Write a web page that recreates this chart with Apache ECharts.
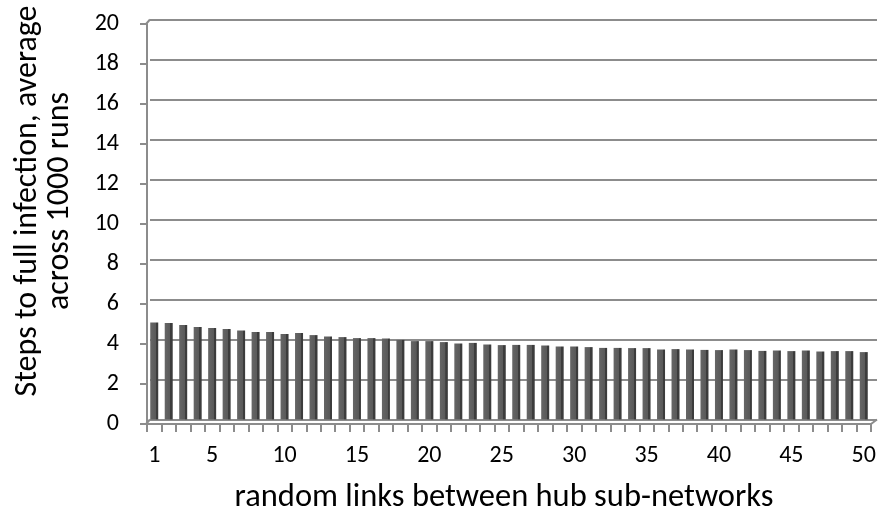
<!DOCTYPE html>
<html>
<head>
<meta charset="utf-8">
<script src="https://cdn.jsdelivr.net/npm/echarts@6/dist/echarts.min.js"></script>
<style>
  html, body { margin: 0; padding: 0; background: #fff; }
  #chart { width: 883px; height: 521px; }
</style>
</head>
<body>
<div id="chart"></div>
<script>
// Number of random links added between the hub sub-networks
const links = Array.from({ length: 50 }, (_, i) => String(i + 1));

// Average steps until the whole network is infected (1000 runs each)
const avgSteps = [
  4.85, 4.83, 4.72, 4.63, 4.58, 4.53, 4.45, 4.38, 4.37, 4.28,
  4.33, 4.22, 4.15, 4.12, 4.07, 4.07, 4.05, 3.98, 3.92, 3.92,
  3.87, 3.80, 3.83, 3.75, 3.72, 3.73, 3.73, 3.70, 3.65, 3.65,
  3.62, 3.58, 3.58, 3.57, 3.57, 3.50, 3.52, 3.50, 3.48, 3.47,
  3.50, 3.47, 3.43, 3.45, 3.42, 3.45, 3.40, 3.42, 3.42, 3.37
];

// Value axis ticks
const yMin = 0, yMax = 20, yStep = 2;

const FONT = 'Carlito, Lato, sans-serif';
const GRID_GRAY = '#8c8c8c';

const chart = echarts.init(document.getElementById('chart'), null, { renderer: 'canvas' });

const hiddenCat = (grid) => ({ gridIndex: grid, type: 'category', data: links, show: false });
const hiddenVal = (grid) => ({
  gridIndex: grid, type: 'value', min: yMin, max: yMax, interval: yStep, show: false,
  splitLine: { show: false }
});

chart.setOption({
  backgroundColor: '#ffffff',
  animation: false,
  grid: [
    // back wall (gridlines)
    { left: 150, right: 6, top: 19.5, bottom: 101.5 },
    // front plane (axes)
    { left: 147, right: 12, top: 24, bottom: 97 },
    // columns: front-plane categories, back-wall values
    { left: 147, right: 12, top: 19.5, bottom: 101.5 }
  ],
  xAxis: [
    hiddenCat(0),
    {
      gridIndex: 1, type: 'category', data: links,
      axisLine: { lineStyle: { color: GRID_GRAY, width: 2 } },
      axisTick: { show: true, length: 8, alignWithLabel: false, interval: 0,
                  lineStyle: { color: GRID_GRAY, width: 2 } },
      axisLabel: {
        interval: 0,
        formatter: v => (v === '1' || Number(v) % 5 === 0) ? v : '',
        color: '#000', fontFamily: FONT, fontSize: 24, margin: 20
      },
      name: 'random links between hub sub-networks',
      nameLocation: 'middle', nameGap: 57,
      nameTextStyle: { color: '#000', fontFamily: FONT, fontSize: 32.5, padding: [0, 10, 0, 0] }
    },
    hiddenCat(2)
  ],
  yAxis: [
    {
      gridIndex: 0, type: 'value', min: yMin, max: yMax, interval: yStep,
      axisLine: { show: false }, axisTick: { show: false }, axisLabel: { show: false },
      splitLine: { lineStyle: { color: GRID_GRAY, width: 2 } }
    },
    {
      gridIndex: 1, type: 'value', min: yMin, max: yMax, interval: yStep,
      axisLine: { show: true, lineStyle: { color: GRID_GRAY, width: 2 } },
      axisTick: { show: true, length: 7, lineStyle: { color: GRID_GRAY, width: 2 } },
      axisLabel: { color: '#000', fontFamily: FONT, fontSize: 24, margin: 28 },
      splitLine: { show: false }
    },
    hiddenVal(2)
  ],
  graphic: [
    {
      type: 'text', x: 44, y: 201, rotation: Math.PI / 2,
      style: {
        text: 'Steps to full infection, average\nacross 1000 runs',
        fill: '#000', font: '32px ' + FONT,
        textAlign: 'center', textVerticalAlign: 'middle', lineHeight: 32
      }
    },
    // 3-D corner joins between the front axes and the back wall
    { type: 'line', shape: { x1: 146, y1: 24, x2: 150, y2: 19.5 },
      style: { stroke: GRID_GRAY, lineWidth: 2 } },
    { type: 'line', shape: { x1: 146, y1: 424, x2: 150, y2: 419.5 },
      style: { stroke: GRID_GRAY, lineWidth: 2 } },
    { type: 'line', shape: { x1: 871, y1: 424, x2: 877, y2: 419.5 },
      style: { stroke: GRID_GRAY, lineWidth: 2 } }
  ],
  series: [
    {
      type: 'bar', xAxisIndex: 2, yAxisIndex: 2,
      data: avgSteps, barWidth: 8,
      itemStyle: {
        color: {
          type: 'linear', x: 0, y: 0, x2: 1, y2: 0,
          colorStops: [
            { offset: 0, color: '#666666' },
            { offset: 0.7, color: '#595959' },
            { offset: 0.71, color: '#3c3c3c' },
            { offset: 1, color: '#3c3c3c' }
          ]
        }
      }
    }
  ]
});
</script>
</body>
</html>
